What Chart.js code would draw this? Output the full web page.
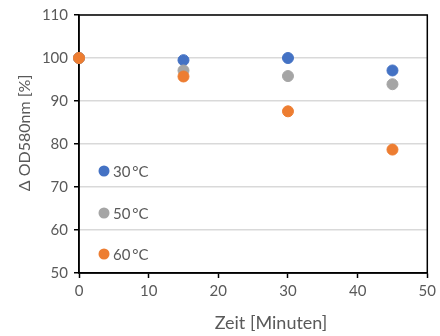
<!DOCTYPE html>
<html>
<head>
<meta charset="utf-8">
<script src="https://cdn.jsdelivr.net/npm/chart.js@4"></script>
<style>
  body { margin: 0; background: #fff; }
  #wrap { width: 440px; height: 336px; }
</style>
</head>
<body>
<div id="wrap"><canvas id="myChart"></canvas></div>
<script>
// data
const times = [0, 15, 30, 45];
const od30 = [100, 99.5, 100, 97.1];
const od50 = [100, 97.1, 95.8, 93.9];
const od60 = [100, 95.7, 87.6, 78.7];
const seriesNames = ['30\u2009°C', '50\u2009°C', '60\u2009°C'];
const colors = ['#4472C4', '#A5A5A5', '#ED7D31'];
const xTitle = 'Zeit [Minuten]';
const yTitle = 'Δ OD580nm [%]';

const font = "Lato, 'Open Sans', sans-serif";
const textCol = '#595959';

const toPoints = (vals) => times.map((t, i) => ({ x: t, y: vals[i] }));

// box round the plot area, legend inside it, axis titles
const boxAndLegend = {
  id: 'boxAndLegend',
  beforeDatasetsDraw(chart) {
    const c = chart.ctx;
    const a = chart.chartArea;
    c.save();
    c.strokeStyle = '#000';
    c.lineWidth = 1.5;
    c.strokeRect(a.left, a.top, a.right - a.left, a.bottom - a.top);
    c.restore();
  },
  afterDraw(chart) {
    const c = chart.ctx;
    const a = chart.chartArea;
    c.save();
    const rows = [171, 213, 254];
    chart.data.datasets.forEach((ds) => {
      const y = rows[seriesNames.indexOf(ds.label)];
      c.beginPath();
      c.fillStyle = ds.backgroundColor;
      c.arc(a.left + 25, y, 5.5, 0, Math.PI * 2);
      c.fill();
      c.fillStyle = textCol;
      c.font = '15px ' + font;
      c.textBaseline = 'middle';
      c.textAlign = 'left';
      c.fillText(ds.label, a.left + 34, y + 1);
    });

    c.fillStyle = textCol;
    c.textAlign = 'center';
    c.textBaseline = 'middle';
    c.font = '18px ' + font;
    c.fillText(xTitle, 271, 323);
    c.translate(25, 133);
    c.rotate(-Math.PI / 2);
    c.font = '16px ' + font;
    c.fillText(yTitle, 0, 0);
    c.restore();
  }
};

new Chart(document.getElementById('myChart'), {
  type: 'scatter',
  data: {
    datasets: [
      { label: seriesNames[0], data: toPoints(od30), backgroundColor: colors[0], borderColor: colors[0], pointRadius: 5.5, order: 2, clip: false },
      { label: seriesNames[1], data: toPoints(od50), backgroundColor: colors[1], borderColor: colors[1], pointRadius: 5.5, order: 1, clip: false },
      { label: seriesNames[2], data: toPoints(od60), backgroundColor: colors[2], borderColor: colors[2], pointRadius: 5.5, order: 0, clip: false }
    ]
  },
  options: {
    responsive: true,
    maintainAspectRatio: false,
    animation: false,
    layout: { padding: { left: 0, top: 14, right: 10, bottom: 0 } },
    plugins: { legend: { display: false }, tooltip: { enabled: false } },
    scales: {
      x: {
        min: 0, max: 50,
        ticks: { stepSize: 10, color: textCol, font: { family: font, size: 15 }, padding: 4 },
        grid: { drawOnChartArea: false, drawTicks: true, tickLength: 5, tickColor: '#000', tickWidth: 1.5 },
        border: { color: '#000', width: 1.5 },
        afterFit(scale) { scale.height = 63; }
      },
      y: {
        min: 50, max: 110,
        ticks: { stepSize: 10, color: textCol, font: { family: font, size: 15 }, padding: 6 },
        grid: { color: '#d9d9d9', lineWidth: 1.5, drawTicks: true, tickLength: 5, tickColor: '#000', tickWidth: 1.5 },
        border: { color: '#000', width: 1.5 },
        afterFit(scale) { scale.width = 79; }
      }
    }
  },
  plugins: [boxAndLegend]
});
</script>
</body>
</html>
